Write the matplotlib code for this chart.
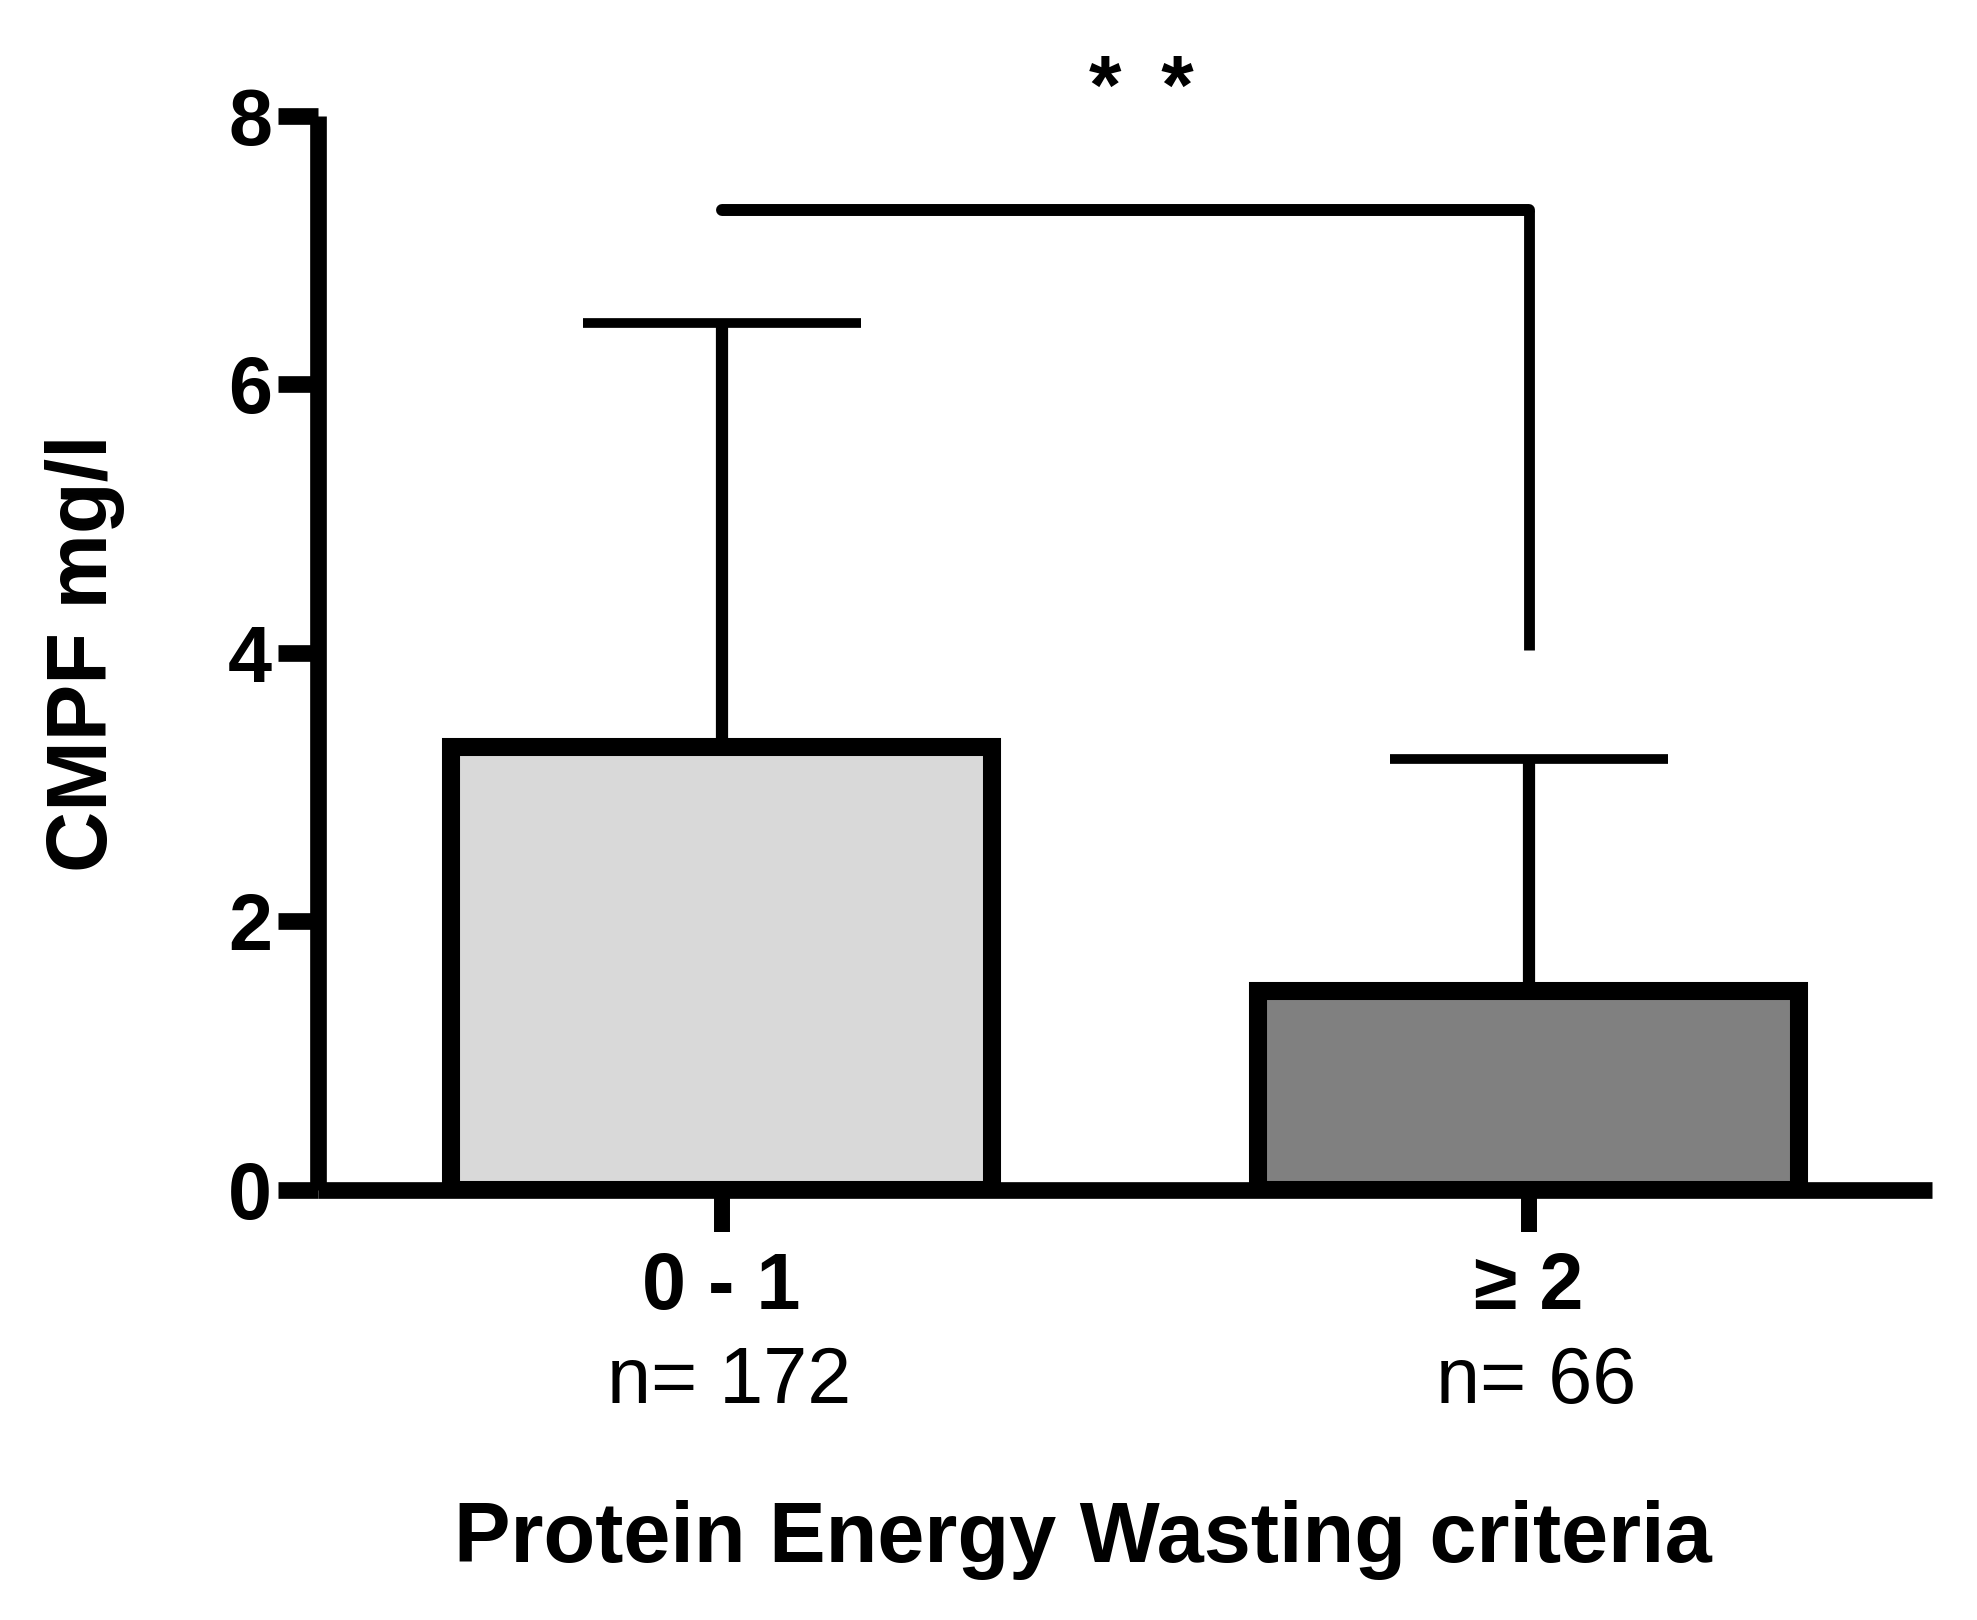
import numpy as np
import matplotlib
matplotlib.use("Agg")
import matplotlib.pyplot as plt

plt.rcParams['font.family'] = ['Liberation Sans', 'DejaVu Sans']

# donnees
groupes = ["0 - 1", "≥ 2"]
effectifs = ["n= 172", "n= 66"]
moyennes = [3.30, 1.48]
ecarts = [3.16, 1.73]
couleurs = ["#d9d9d9", "#808080"]
bracket_y = 7.30
bracket_bas = 4.02
etoiles_y = 8.18

fig = plt.figure(figsize=(19.77, 16.2), dpi=100)
ax = fig.add_axes([318 / 1977, 1 - 1189.5 / 1620, 1614 / 1977, 1073.5 / 1620])

x = np.arange(len(groupes))
ax.bar(x, moyennes, width=0.67, color=couleurs, edgecolor="black", linewidth=13, zorder=2)
ax.errorbar(x, moyennes, yerr=[np.zeros(len(ecarts)), ecarts], fmt="none",
            ecolor="black", elinewidth=8.8, capsize=100, capthick=7, zorder=3)

# barre de significativite
ax.plot([x[0], x[1]], [bracket_y, bracket_y], color="black", lw=8.6,
        solid_capstyle="round", clip_on=False)
ax.plot([x[1], x[1]], [bracket_y, bracket_bas], color="black", lw=7.8,
        solid_capstyle="butt", clip_on=False)
ax.text((x[0] + x[1]) / 2 + 0.02, etoiles_y, "*\u2009 *", ha="center", va="center",
        fontsize=60, fontweight="bold", clip_on=False)

ax.set_xlim(-0.5, 1.5)
ax.set_ylim(0, 8)
ax.set_yticks([0, 2, 4, 6, 8])
ax.set_xticks(x)
ax.set_xticklabels(groupes, fontsize=57, fontweight="bold")
ax.tick_params(axis="y", labelsize=57, length=29, width=12, pad=4, direction="out")
ax.tick_params(axis="x", length=30, width=11.5, pad=14, direction="out")
for lab in ax.get_yticklabels():
    lab.set_fontweight("bold")

for s in ["top", "right"]:
    ax.spines[s].set_visible(False)
for s in ["left", "bottom"]:
    ax.spines[s].set_linewidth(12)
    ax.spines[s].set_capstyle("butt")

# effectifs sous les categories
for xi, n in zip(x, effectifs):
    ax.text(xi + 0.01, -1.59, n, ha="center", va="baseline", fontsize=57, clip_on=False)

ax.set_ylabel("CMPF mg/l", fontsize=61, fontweight="bold", labelpad=74)
fig.text(1083 / 1977, 1 - 1562 / 1620, "Protein Energy Wasting criteria",
         ha="center", va="baseline", fontsize=61, fontweight="bold")

fig.savefig("out.png", dpi=100)
